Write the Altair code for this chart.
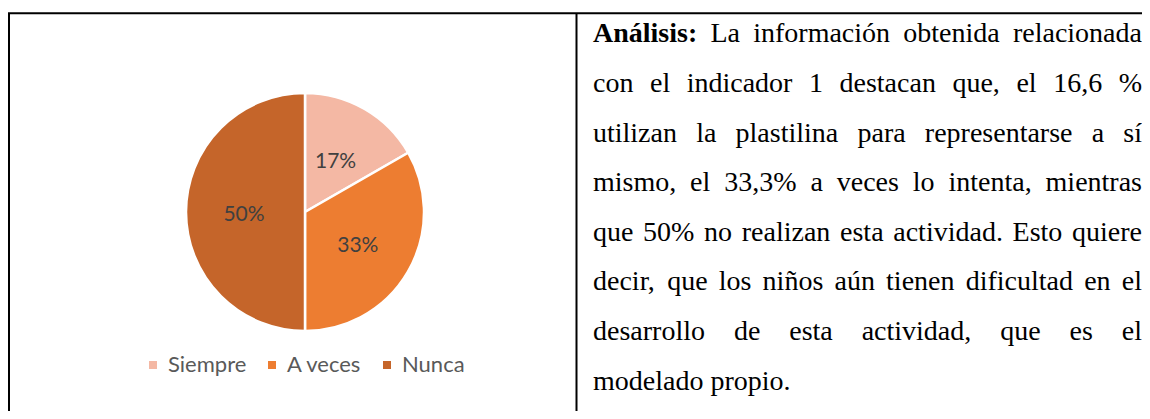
import altair as alt
import pandas as pd

# ---------------- data ----------------
categories = ["Siempre", "A veces", "Nunca"]
percentages = [16.7, 33.3, 50.0]
slice_colors = ["#F4B8A4", "#ED7D31", "#C5652A"]

paragraph_lines = [
    "Análisis: La información obtenida relacionada",
    "con el indicador 1 destacan que, el 16,6 %",
    "utilizan la plastilina para representarse a sí",
    "mismo, el 33,3% a veces lo intenta, mientras",
    "que 50% no realizan esta actividad. Esto quiere",
    "decir, que los niños aún tienen dificultad en el",
    "desarrollo de esta actividad, que es el",
    "modelado propio.",
]
bold_words = ["Análisis:"]

# ---------------- layout ----------------
W, H = 1134, 403
FONT_SIZE = 28
TEXT_LEFT, TEXT_RIGHT = 585, 1134
FIRST_BASELINE, LINE_STEP = 34.3, 49.6
PIE_X, PIE_Y, PIE_R = 297, 204, 119

# Times (Liberation Serif) advance widths, 1/1000 em
REG = {" ": 250, "%": 833, ",": 250, ".": 250, ":": 278,
       "A": 722, "E": 611, "L": 611,
       "a": 444, "b": 500, "c": 444, "d": 500, "e": 444, "f": 333, "g": 500,
       "h": 500, "i": 278, "j": 278, "k": 500, "l": 278, "m": 778, "n": 500,
       "o": 500, "p": 500, "q": 500, "r": 333, "s": 389, "t": 278, "u": 500,
       "v": 500, "w": 722, "x": 500, "y": 500, "z": 444,
       "á": 444, "é": 444, "í": 278, "ó": 500, "ú": 500, "ñ": 500}
for d in "0123456789":
    REG[d] = 500
BOLD = {"A": 722, "n": 556, "á": 500, "l": 278, "i": 278, "s": 389, ":": 333}


def word_width(word, bold):
    table = BOLD if bold else REG
    return sum(table.get(ch, REG.get(ch, 500)) for ch in word) * FONT_SIZE / 1000.0


rows = []
for li, line in enumerate(paragraph_lines):
    words = line.split(" ")
    widths = [word_width(w, w in bold_words) for w in words]
    last = li == len(paragraph_lines) - 1
    if last or len(words) == 1:
        gap = REG[" "] * FONT_SIZE / 1000.0
    else:
        gap = (TEXT_RIGHT - TEXT_LEFT - sum(widths)) / (len(words) - 1)
    x = TEXT_LEFT
    for w, wd in zip(words, widths):
        rows.append({"x": x, "y": FIRST_BASELINE + LINE_STEP * li, "word": w,
                     "bold": w in bold_words})
        x += wd + gap
words_df = pd.DataFrame(rows)

borders_df = pd.DataFrame({
    "x": [0, 1, 568.5],
    "x2": [W, 1, 568.5],
    "y": [5.3, 5.3, 5.3],
    "y2": [5.3, H, H],
})

xs = alt.Scale(domain=[0, W], range=[0, W], nice=False, zero=False)
ys = alt.Scale(domain=[0, H], range=[0, H], nice=False, zero=False)

borders = alt.Chart(borders_df).mark_rule(color="black", strokeWidth=2).encode(
    x=alt.X("x:Q", scale=xs, axis=None),
    x2="x2:Q",
    y=alt.Y("y:Q", scale=ys, axis=None),
    y2="y2:Q",
)

text_regular = alt.Chart(words_df[~words_df["bold"]]).mark_text(
    align="left", baseline="alphabetic", font="Liberation Serif",
    fontSize=FONT_SIZE, color="#000000"
).encode(
    x=alt.X("x:Q", scale=xs, axis=None),
    y=alt.Y("y:Q", scale=ys, axis=None),
    text="word:N",
)
text_bold = alt.Chart(words_df[words_df["bold"]]).mark_text(
    align="left", baseline="alphabetic", font="Liberation Serif",
    fontSize=FONT_SIZE, fontWeight="bold", color="#000000"
).encode(
    x=alt.X("x:Q", scale=xs, axis=None),
    y=alt.Y("y:Q", scale=ys, axis=None),
    text="word:N",
)

pie_df = pd.DataFrame({"cat": categories, "pct": percentages,
                       "idx": list(range(len(categories)))})

pie_base = alt.Chart(pie_df).encode(
    theta=alt.Theta("pct:Q", stack=True),
    order=alt.Order("idx:Q"),
    x=alt.value(PIE_X),
    y=alt.value(PIE_Y),
)

arcs = pie_base.mark_arc(outerRadius=PIE_R, stroke="white", strokeWidth=2.5).encode(
    color=alt.Color(
        "cat:N",
        scale=alt.Scale(domain=categories, range=slice_colors),
        sort=categories,
        legend=alt.Legend(
            orient="none", legendX=134, legendY=346, direction="horizontal",
            title=None, symbolType="square", symbolSize=64,
            symbolStrokeWidth=0, labelFont="Lato", labelFontSize=22,
            labelColor="#595959", columnPadding=14, labelOffset=4, padding=0,
        ),
    )
)

labels = pie_base.transform_calculate(
    label="format(datum.pct, '.0f') + '%'"
).mark_text(radius=61, dy=3, font="Lato", fontSize=21, color="#404040",
            align="center", baseline="middle").encode(text="label:N")

chart = alt.layer(borders, arcs, labels, text_regular, text_bold).properties(
    width=W, height=H, padding=0, autosize="none", background="white"
).configure_view(stroke=None)

chart.save("out.html", embed_options={"renderer": "svg", "actions": False})
